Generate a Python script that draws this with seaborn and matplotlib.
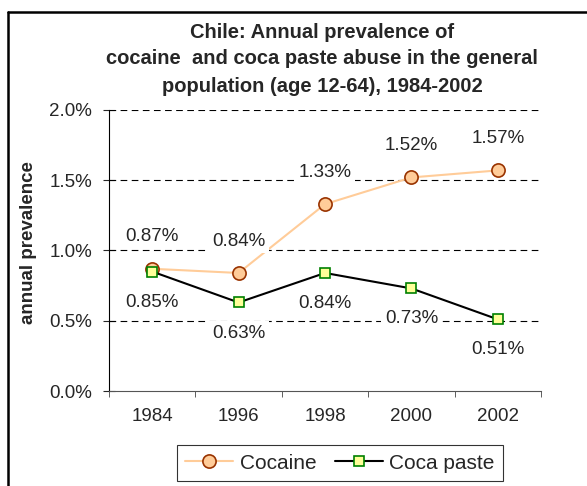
import pandas as pd
import matplotlib
matplotlib.use("Agg")
import matplotlib.pyplot as plt
import seaborn as sns
from matplotlib.lines import Line2D
from matplotlib.ticker import FuncFormatter, FixedLocator

years = ["1984", "1996", "1998", "2000", "2002"]
cocaine = [0.87, 0.84, 1.33, 1.52, 1.57]
coca_paste = [0.85, 0.63, 0.84, 0.73, 0.51]

sns.set_style("white")
plt.rcParams['font.family'] = ['Liberation Sans', 'DejaVu Sans']

df = pd.DataFrame({'year': years, 'Cocaine': cocaine, 'Coca paste': coca_paste})

fig = plt.figure(figsize=(5.87, 4.86), dpi=100)
ax = fig.add_axes([109/587, 1-391/486, 432/587, 281/486])

sns.lineplot(x='year', y='Cocaine', data=df, ax=ax, sort=False, color='#FFCC99', lw=1.5,
             marker='o', markersize=9.5, markerfacecolor='#FFCC99', markeredgecolor='#993300',
             markeredgewidth=1.2, label='Cocaine', zorder=3)
sns.lineplot(x='year', y='Coca paste', data=df, ax=ax, sort=False, color='black', lw=1.5,
             marker='s', markersize=7.5, markerfacecolor='#FFFF99', markeredgecolor='#008000',
             markeredgewidth=1.2, label='Coca paste', zorder=4)

# data labels, white boxes hide grid and lines like the original
for i, v in enumerate(cocaine):
    ax.annotate("%.2f%%" % v, (i, v), xytext=(0, 23), textcoords='offset points',
                ha='center', va='center', fontsize=13.5, zorder=5,
                bbox=dict(facecolor='white', edgecolor='none', pad=2.5))
for i, v in enumerate(coca_paste):
    ax.annotate("%.2f%%" % v, (i, v), xytext=(0, -22), textcoords='offset points',
                ha='center', va='center', fontsize=13.5, zorder=5,
                bbox=dict(facecolor='white', edgecolor='none', pad=2.5))

ax.set_xlim(-0.5, 4.5)
ax.set_ylim(0, 2.0)
ax.set_yticks([0, 0.5, 1.0, 1.5, 2.0])
ax.yaxis.set_major_formatter(FuncFormatter(lambda v, p: "%.1f%%" % v))
for y in [0.5, 1.0, 1.5, 2.0]:
    ax.axhline(y, color='black', lw=0.8, ls=(0, (6, 4)), zorder=1)

ax.xaxis.set_minor_locator(FixedLocator([-0.5, 0.5, 1.5, 2.5, 3.5, 4.5]))
ax.tick_params(axis='x', which='major', length=0, labelsize=13.5, pad=12)
ax.tick_params(axis='x', which='minor', length=4, direction='out', bottom=True, color='#444444')
ax.tick_params(axis='y', length=8, direction='inout', left=True, labelsize=13.5, pad=8)

for s in ['top', 'right']:
    ax.spines[s].set_visible(False)
ax.spines['left'].set_color('black')
ax.spines['bottom'].set_color('#555555')
ax.set_xlabel("")
ax.set_ylabel("annual prevalence", fontsize=13.5, fontweight='bold')
ax.yaxis.set_label_coords(-0.166, 0.53)

title_lines = ["Chile: Annual prevalence of",
               "cocaine  and coca paste abuse in the general",
               "population (age 12-64), 1984-2002"]
for line, ypix in zip(title_lines, [32, 59, 87]):
    fig.text(322/587, 1-ypix/486, line, ha='center', va='center',
             fontsize=14.5, fontweight='bold')

leg = ax.legend(loc='center', bbox_to_anchor=(340/587, 1-463/486), bbox_transform=fig.transFigure,
                ncol=2, frameon=True, fancybox=False, edgecolor='black', fontsize=15,
                handlelength=2.3, columnspacing=0.9, handletextpad=0.3, borderpad=0.4,
                borderaxespad=0)
leg.get_frame().set_linewidth(0.8)

# outer frame: left and top edges only
fig.add_artist(Line2D([8/587, 8/587], [0, 1-12/486], transform=fig.transFigure, color='black', lw=1.8))
fig.add_artist(Line2D([8/587, 1], [1-12/486, 1-12/486], transform=fig.transFigure, color='black', lw=1.8))

fig.savefig("out.png", dpi=100)
